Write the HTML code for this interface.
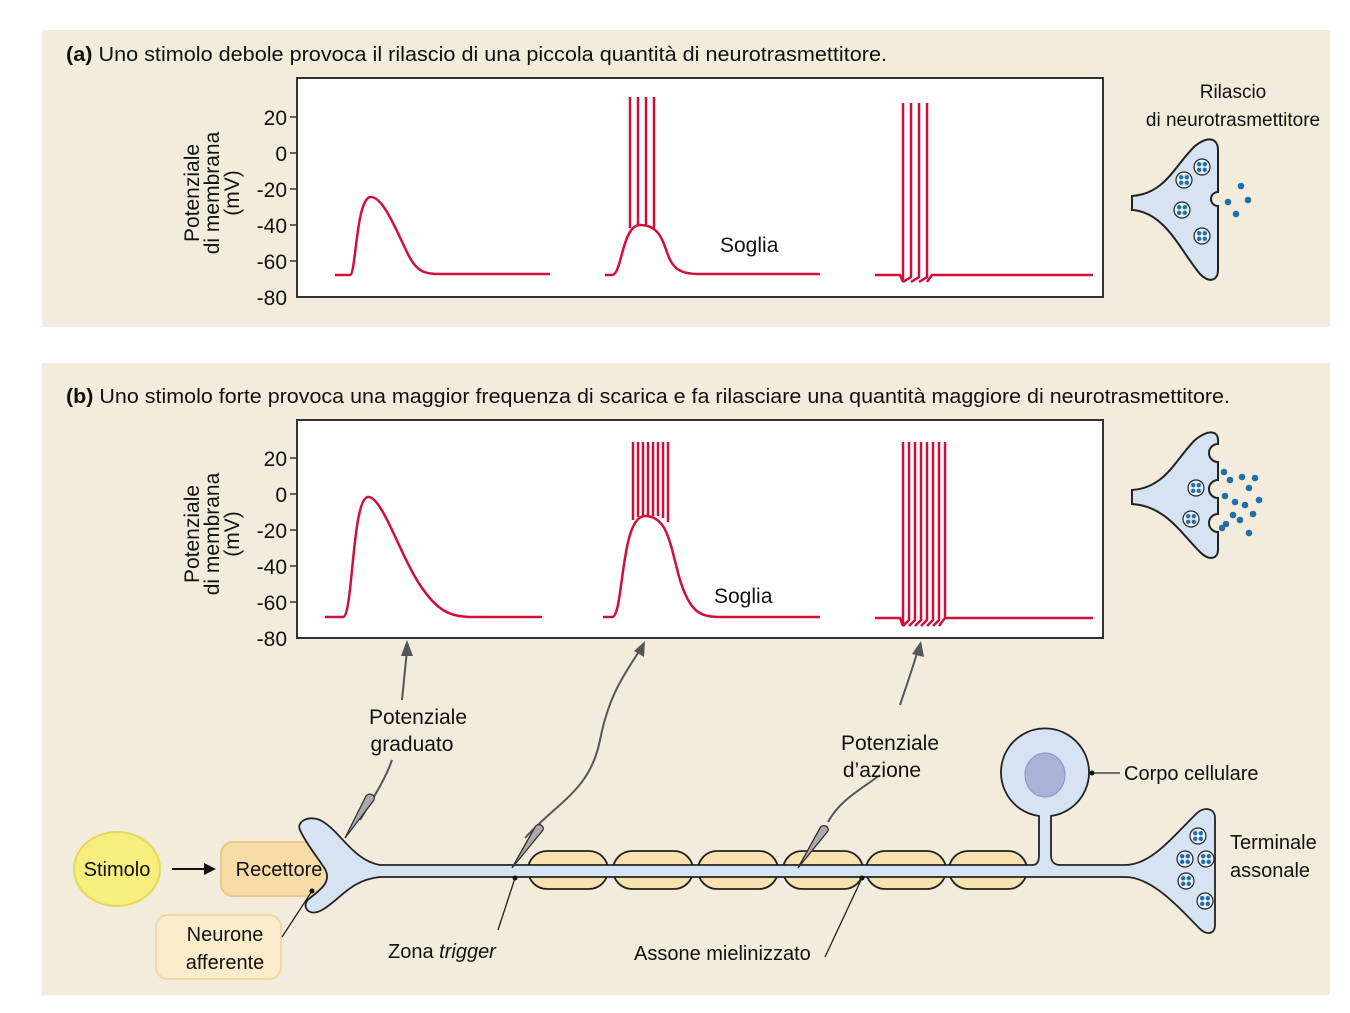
<!DOCTYPE html>
<html><head><meta charset="utf-8"><style>
html,body{margin:0;padding:0;background:#fff}
svg{display:block}
text{font-family:"Liberation Sans",sans-serif;fill:#111}
</style></head><body>
<svg width="1350" height="1013" viewBox="0 0 1350 1013" xmlns="http://www.w3.org/2000/svg">
<defs>
<g id="ves"><circle r="8" fill="#e6eef8" stroke="#222" stroke-width="1.2"/><circle cx="-2.8" cy="-2.8" r="2.2" fill="#1f6fa8"/><circle cx="2.8" cy="-2.8" r="2.2" fill="#1f6fa8"/><circle cx="-2.8" cy="2.8" r="2.2" fill="#1f6fa8"/><circle cx="2.8" cy="2.8" r="2.2" fill="#1f6fa8"/></g>
</defs>
<rect width="1350" height="1013" fill="#fff"/>
<rect x="42" y="30" width="1288" height="297" fill="#f3ecdc"/>
<rect x="42" y="363" width="1288" height="632" fill="#f3ecdc"/>

<text x="66" y="61" font-size="20" textLength="821" lengthAdjust="spacingAndGlyphs"><tspan font-weight="bold">(a)</tspan> Uno stimolo debole provoca il rilascio di una piccola quantità di neurotrasmettitore.</text>
<text x="66" y="403" font-size="20" textLength="1164" lengthAdjust="spacingAndGlyphs"><tspan font-weight="bold">(b)</tspan> Uno stimolo forte provoca una maggior frequenza di scarica e fa rilasciare una quantità maggiore di neurotrasmettitore.</text>

<!-- graph a -->
<rect x="297" y="78" width="806" height="219" fill="#fff" stroke="#333" stroke-width="2"/>
<g font-size="21" text-anchor="end">
<text x="287" y="125">20</text><text x="287" y="161">0</text><text x="287" y="197">-20</text><text x="287" y="233">-40</text><text x="287" y="269">-60</text><text x="287" y="305">-80</text>
</g>
<g stroke="#333" stroke-width="1.5"><line x1="290" y1="117" x2="297" y2="117"/><line x1="290" y1="153" x2="297" y2="153"/><line x1="290" y1="189" x2="297" y2="189"/><line x1="290" y1="225" x2="297" y2="225"/><line x1="290" y1="261" x2="297" y2="261"/></g>
<g font-size="21" text-anchor="middle">
<text transform="translate(199,193) rotate(-90)">Potenziale</text>
<text transform="translate(219,193) rotate(-90)">di membrana</text>
<text transform="translate(239,193) rotate(-90)">(mV)</text>
</g>
<g fill="none" stroke="#d0103a" stroke-width="2.5">
<path d="M335 275 L350 275 C356 275 356 200 370 197 C384 195 400 240 410 258 C418 272 425 274 440 274 L550 274"/>
<path d="M605 275 L612 275 C622 275 622 225 640 225 C658 225 662 238 668 255 C674 272 685 274 700 274 L820 274"/>
<path d="M630 228 V97 M638 225 V97 M646 225 V97 M654 228 V97"/>
<path d="M875 275 L900 275 L903 282 L903 103 M903 282 L911 277 L911 103 M911 282 L919 277 L919 103 M919 282 L927 277 L927 103 M927 282 L932 275 L1093 275"/>
</g>
<text x="720" y="252" font-size="21">Soglia</text>

<!-- graph b -->
<rect x="297" y="420" width="806" height="218" fill="#fff" stroke="#333" stroke-width="2"/>
<g font-size="21" text-anchor="end">
<text x="287" y="466">20</text><text x="287" y="502">0</text><text x="287" y="538">-20</text><text x="287" y="574">-40</text><text x="287" y="610">-60</text><text x="287" y="646">-80</text>
</g>
<g stroke="#333" stroke-width="1.5"><line x1="290" y1="458" x2="297" y2="458"/><line x1="290" y1="494" x2="297" y2="494"/><line x1="290" y1="530" x2="297" y2="530"/><line x1="290" y1="566" x2="297" y2="566"/><line x1="290" y1="602" x2="297" y2="602"/></g>
<g font-size="21" text-anchor="middle">
<text transform="translate(199,534) rotate(-90)">Potenziale</text>
<text transform="translate(219,534) rotate(-90)">di membrana</text>
<text transform="translate(239,534) rotate(-90)">(mV)</text>
</g>
<g fill="none" stroke="#d0103a" stroke-width="2.5">
<path d="M325 617 L343 617 C353 617 352 498 368 497 C382 496 400 555 420 585 C438 612 450 616 470 617 L542 617"/>
<path d="M603 617 L612 617 C624 617 620 516 645 516 C668 516 670 545 680 580 C690 612 700 617 720 617 L820 617"/>
<path d="M633 520 V442 M638 517 V442 M643 516 V442 M648 516 V442 M653 516 V442 M658 516 V442 M663 518 V442 M668 522 V442"/>
<path d="M875 618 L900 618 L903 626 V442 M903 626 L909 620 V442 M909 626 L915 620 V442 M915 626 L921 620 V442 M921 626 L927 620 V442 M927 626 L933 620 V442 M933 626 L939 620 V442 M939 626 L945 618 V442 M945 618 L1093 618"/>
</g>
<text x="714" y="603" font-size="21">Soglia</text>

<!-- synapse a -->
<text x="1233" y="98" font-size="19" text-anchor="middle">Rilascio</text>
<text x="1233" y="126" font-size="19" text-anchor="middle">di neurotrasmettitore</text>
<path d="M1132 196 C1165 194 1175 165 1195 146 C1210 134 1218 140 1218 150 L1218 192 A7 7 0 0 0 1218 206 L1218 270 C1218 280 1210 284 1200 274 C1180 250 1165 212 1132 210 Z" fill="#d6e3f3" stroke="#222" stroke-width="2"/>
<use href="#ves" x="1202" y="167"/><use href="#ves" x="1184" y="180"/><use href="#ves" x="1182" y="210"/><use href="#ves" x="1202" y="236"/>
<g fill="#1f6fa8"><circle cx="1241" cy="186" r="3.3"/><circle cx="1228" cy="202" r="3.3"/><circle cx="1248" cy="200" r="3.3"/><circle cx="1236" cy="214" r="3.3"/></g>

<!-- synapse b -->
<path d="M1132 490 C1165 488 1175 460 1195 440 C1210 428 1218 432 1218 440 L1218 444 A7 7 0 0 0 1218 462 L1218 480 A7 7 0 0 0 1218 498 L1218 514 A7 7 0 0 0 1218 532 L1218 550 C1218 558 1210 562 1200 552 C1180 532 1165 506 1132 504 Z" fill="#d6e3f3" stroke="#222" stroke-width="2"/>
<use href="#ves" x="1196" y="488"/><use href="#ves" x="1191" y="519"/>
<g fill="#1f6fa8"><circle cx="1224" cy="472" r="3.3"/><circle cx="1230" cy="480" r="3.3"/><circle cx="1242" cy="477" r="3.3"/><circle cx="1255" cy="478" r="3.3"/><circle cx="1249" cy="488" r="3.3"/><circle cx="1225" cy="496" r="3.3"/><circle cx="1235" cy="502" r="3.3"/><circle cx="1245" cy="505" r="3.3"/><circle cx="1259" cy="500" r="3.3"/><circle cx="1233" cy="515" r="3.3"/><circle cx="1253" cy="514" r="3.3"/><circle cx="1240" cy="520" r="3.3"/><circle cx="1226" cy="524" r="3.3"/><circle cx="1249" cy="533" r="3.3"/><circle cx="1222" cy="528" r="3.3"/></g>

<!-- arrows from electrodes -->
<g fill="none" stroke="#555" stroke-width="2">
<path d="M360 820 C372 800 385 780 392 760 M402 700 L407 650"/>
<path d="M525 838 C560 800 590 790 600 740 C608 700 620 680 640 650"/>
<path d="M828 822 C840 800 860 790 880 775 M900 705 C905 690 912 670 918 650"/>
</g>
<g fill="#555"><path d="M407 640 L401 656 L413 656 Z"/><path d="M645 641 L634 651 L644 657 Z"/><path d="M921 641 L912 654 L924 657 Z"/></g>
<g font-size="21" text-anchor="middle">
<text x="418" y="724">Potenziale</text><text x="412" y="751">graduato</text>
<text x="890" y="750">Potenziale</text><text x="882" y="777">d’azione</text>
</g>

<!-- stimulus/receptor -->
<ellipse cx="117" cy="869" rx="43" ry="37" fill="#f6ef7e" stroke="#e3d85a" stroke-width="2"/>
<text x="117" y="876" font-size="20" text-anchor="middle">Stimolo</text>
<line x1="172" y1="869" x2="206" y2="869" stroke="#111" stroke-width="2"/><path d="M216 869 L204 863 L204 875 Z" fill="#111"/>
<rect x="221" y="842" width="107" height="54" rx="12" fill="#f7dca8" stroke="#e9c98a" stroke-width="2"/>
<text x="279" y="876" font-size="20" text-anchor="middle">Recettore</text>
<rect x="156" y="915" width="125" height="64" rx="12" fill="#fbeccb" stroke="#eed9a8" stroke-width="2"/>
<g font-size="20" text-anchor="middle"><text x="225" y="941">Neurone</text><text x="225" y="969">afferente</text></g>

<!-- neuron -->
<g stroke="#222" stroke-width="1.8" fill="#f8e3b0">
<rect x="528" y="851" width="80" height="38" rx="19"/><rect x="613" y="851" width="80" height="38" rx="19"/><rect x="698" y="851" width="80" height="38" rx="19"/><rect x="783" y="851" width="80" height="38" rx="19"/><rect x="866" y="851" width="80" height="38" rx="19"/><rect x="949" y="851" width="78" height="38" rx="19"/>
</g>
<path d="M300 830 C296 822 308 815 320 820 C340 830 352 860 380 865 L1032 865 C1037 865 1039 862 1039 855 L1039 816 A44 44 0 1 1 1051 816 L1051 855 C1051 862 1054 865 1061 865 L1125 865 C1150 865 1170 840 1196 814 C1204 806 1215 808 1215 818 L1215 925 C1215 934 1207 936 1199 928 C1174 902 1150 877 1125 877 L380 877 C350 880 340 900 322 910 C308 918 300 905 310 898 C320 890 332 882 325 869 C318 858 305 842 300 830 Z" fill="#d6e3f3" stroke="#222" stroke-width="1.8"/>
<ellipse cx="1045" cy="775" rx="20" ry="22" fill="#a9b3d6" stroke="#8893bd"/>
<use href="#ves" x="1198" y="836"/><use href="#ves" x="1185" y="859"/><use href="#ves" x="1206" y="859"/><use href="#ves" x="1186" y="881"/><use href="#ves" x="1205" y="901"/>
<!-- electrodes -->
<g fill="#aaa" stroke="#333" stroke-width="1.3">
<path d="M345 838 L366 796 C369 792 376 795 374 800 Z"/>
<path d="M512 868 L535 827 C538 822 545 826 543 830 Z"/>
<path d="M798 868 L820 828 C823 823 830 827 828 831 Z"/>
</g>
<g fill="#111"><circle cx="312" cy="891" r="2.5"/><circle cx="515" cy="878" r="2.5"/><circle cx="862" cy="878" r="2.5"/><circle cx="1092" cy="773" r="2.5"/></g>
<g stroke="#222" stroke-width="1.3" fill="none">
<line x1="312" y1="891" x2="282" y2="937"/>
<line x1="515" y1="878" x2="498" y2="930"/>
<line x1="862" y1="878" x2="825" y2="957"/>
<line x1="1092" y1="773" x2="1120" y2="773"/>
</g>
<g font-size="20">
<text x="388" y="958"><tspan>Zona </tspan><tspan font-style="italic">trigger</tspan></text>
<text x="634" y="960">Assone mielinizzato</text>
<text x="1124" y="780">Corpo cellulare</text>
<text x="1230" y="849">Terminale</text><text x="1230" y="877">assonale</text>
</g>
</svg>
</body></html>
